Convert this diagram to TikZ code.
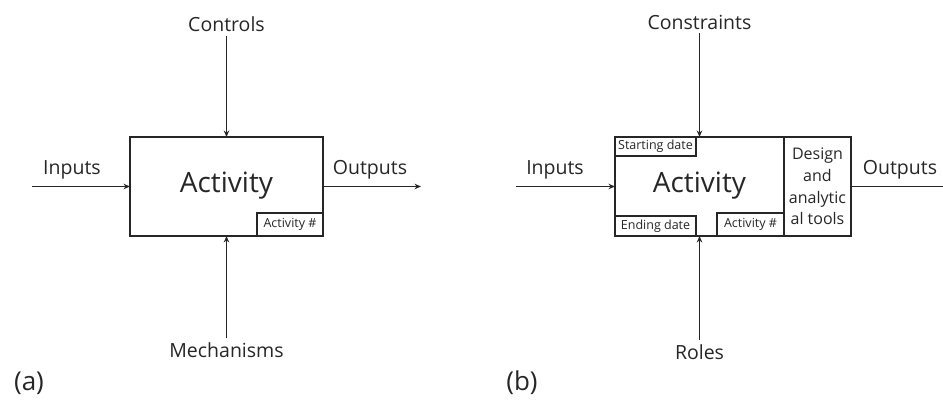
\documentclass[tikz,border=0pt]{standalone}
\usepackage{fontspec}
\setmainfont{Open Sans}
\usetikzlibrary{arrows.meta}
\definecolor{ink}{HTML}{262626}
\begin{document}
\begin{tikzpicture}[x=1pt,y=-1pt,
  box/.style={draw=ink, line width=1.1pt, inner sep=0pt, outer sep=0pt, text=ink},
  tag/.style={box, font=\fontsize{12.5}{14}\selectfont},
  lbl/.style={text=ink, inner sep=4pt, font=\fontsize{19.5}{23}\selectfont},
  big/.style={text=ink, inner sep=0pt, font=\fontsize{28}{32}\selectfont},
  panel/.style={text=ink, inner sep=0pt, font=\fontsize{26}{30}\selectfont},
  arr/.style={draw=ink, line width=1.1pt, -{Stealth[length=6.5pt,width=5.5pt]}},
  wire/.style={draw=ink, line width=1.1pt}]
\useasboundingbox (0,0) rectangle (943,403);

% ---------- (a) basic activity box ----------
\node[box, anchor=north west, minimum width=193pt, minimum height=99pt] (actA) at (130,137) {};
\node[big] at ([yshift=1pt]actA.center) {Activity};
\node[tag, anchor=south east, minimum width=66pt, minimum height=23pt] (numA) at (actA.south east) {Activity \#};

\node[lbl] (ctrlA) at (226.5,24) {Controls};
\node[lbl] (mechA) at (226.5,350) {Mechanisms};
\node[lbl] (inA) at (72,170) {Inputs};
\node[lbl] (outA) at (370,170) {Outputs};
\coordinate (inAstart) at (32,186.5);
\coordinate (outAend) at (421,186.5);

\draw[arr] (ctrlA.south) -- (actA.north);
\draw[arr] (mechA.north) -- (actA.south);
\draw[arr] (inAstart) -- (actA.west);
\draw[arr] (actA.east) -- (outAend);

\node[panel] (capA) at (29,383) {(a)};

% ---------- (b) extended activity box ----------
\node[box, anchor=north west, minimum width=169pt, minimum height=99pt] (actB) at (615,137) {};
\node[big] at ([yshift=1pt]actB.center) {Activity};
\node[tag, anchor=north west, minimum width=81pt, minimum height=19pt] (startB) at (actB.north west) {Starting date};
\node[tag, anchor=south west, minimum width=81pt, minimum height=20pt] (endB) at (actB.south west) {Ending date};
\node[tag, anchor=south east, minimum width=67pt, minimum height=23pt] (numB) at (actB.south east) {Activity \#};
\node[box, anchor=north west, minimum width=67pt, minimum height=99pt, align=center,
      font=\fontsize{16}{21.7}\selectfont] (toolsB) at (actB.north east) {Design\\and\\analytic\\al tools};

\node[lbl] (consB) at (699.5,22) {Constraints};
\node[lbl] (roleB) at (699.5,352) {Roles};
\node[lbl] (inB) at (555,170) {Inputs};
\node[lbl] (outB) at (900,170) {Outputs};
\coordinate (inBstart) at (516,186.5);
\coordinate (outBend) at (943,186.5);

\draw[arr] (consB.south) -- (actB.north);
\draw[arr] (roleB.north) -- (actB.south);
\draw[arr] (inBstart) -- (actB.west);
\draw[wire] (toolsB.east) -- (outBend);

\node[panel] (capB) at (522,383) {(b)};
\end{tikzpicture}
\end{document}
